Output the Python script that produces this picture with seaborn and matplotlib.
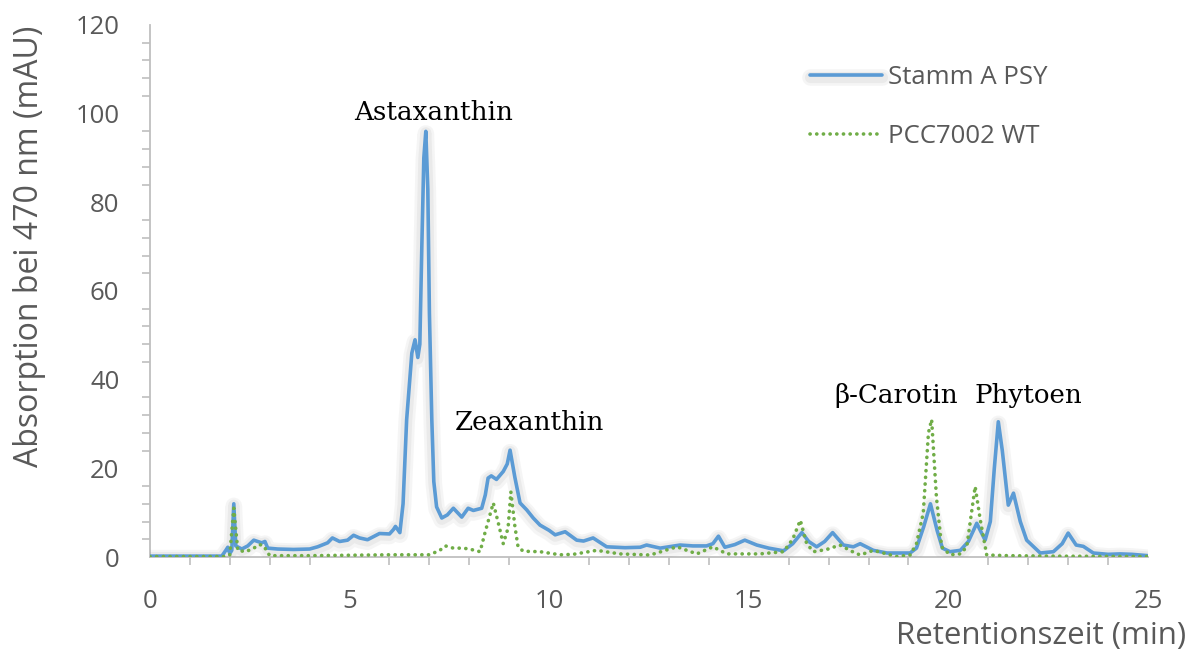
import numpy as np
import pandas as pd
import seaborn as sns
import matplotlib
matplotlib.use("Agg")
import matplotlib.pyplot as plt
import matplotlib.patheffects as pe
from matplotlib.ticker import MultipleLocator

# Retention time (min) and absorbance at 470 nm (mAU) for each strain
psy_time = [0.0, 1.8, 1.9, 1.95, 2.0, 2.05, 2.1, 2.15, 2.3, 2.45, 2.6, 2.7, 2.8, 2.88, 2.95,
            3.2, 3.6, 4.0, 4.2, 4.45, 4.57, 4.75, 4.95, 5.1, 5.25, 5.45, 5.6, 5.75, 6.0,
            6.1, 6.15, 6.26, 6.34, 6.43, 6.56, 6.64, 6.71, 6.76, 6.81, 6.86, 6.91, 6.96,
            7.0, 7.06, 7.11, 7.18, 7.31, 7.45, 7.6, 7.81, 7.97, 8.1, 8.31, 8.4, 8.47, 8.55,
            8.68, 8.85, 8.95, 9.02, 9.14, 9.27, 9.44, 9.6, 9.77, 10.0, 10.15, 10.4, 10.69,
            10.86, 11.1, 11.44, 11.9, 12.28, 12.44, 12.78, 13.28, 13.6, 13.94, 14.1, 14.24,
            14.4, 14.65, 14.9, 15.2, 15.5, 15.87, 16.1, 16.33, 16.5, 16.7, 16.9, 17.1,
            17.37, 17.62, 17.79, 18.12, 18.46, 19.04, 19.2, 19.38, 19.55, 19.72, 19.85,
            20.04, 20.3, 20.5, 20.71, 20.92, 21.05, 21.15, 21.25, 21.35, 21.5, 21.63, 21.8,
            21.96, 22.3, 22.63, 22.85, 23.0, 23.2, 23.38, 23.63, 24.0, 24.3, 24.6, 25.0]
psy_abs = [0.2, 0.2, 1.5, 2.2, 0.8, 1.5, 12.0, 2.5, 1.8, 2.5, 3.8, 3.5, 3.2, 3.5, 2.0,
           1.8, 1.7, 1.8, 2.3, 3.2, 4.3, 3.5, 3.8, 4.9, 4.3, 3.9, 4.6, 5.3, 5.2,
           6.2, 6.9, 5.5, 12.0, 31.0, 46.0, 49.0, 45.0, 48.0, 70.0, 90.0, 96.0, 83.0,
           55.0, 31.0, 17.0, 11.3, 8.8, 9.5, 11.0, 9.0, 11.0, 10.5, 11.0, 14.0, 17.8, 18.3,
           17.5, 19.3, 21.0, 24.1, 18.0, 12.2, 10.6, 8.8, 7.2, 6.0, 5.0, 5.7, 3.8,
           3.6, 4.3, 2.3, 2.1, 2.2, 2.7, 2.0, 2.7, 2.5, 2.5, 3.0, 4.7,
           2.2, 2.8, 3.8, 2.7, 2.0, 1.4, 3.0, 5.5, 3.5, 2.3, 3.5, 5.5,
           2.7, 2.3, 3.0, 1.5, 0.9, 0.9, 2.0, 6.8, 12.0, 5.9, 2.0,
           1.2, 1.5, 3.5, 7.6, 3.8, 8.0, 20.0, 30.5, 24.0, 11.7, 14.4, 8.0,
           3.8, 0.9, 1.2, 3.0, 5.4, 2.7, 2.4, 0.9, 0.6, 0.7, 0.6, 0.3]

wt_time = [0.0, 1.9, 2.0, 2.1, 2.2, 2.4, 2.6, 2.75, 2.85, 2.95, 3.0, 4.0, 5.0, 6.0, 7.0,
           7.26, 7.4, 7.6, 7.84, 8.0, 8.27, 8.39, 8.6, 8.73, 8.85, 8.97, 9.04, 9.14, 9.22,
           9.35, 9.77, 10.27, 10.6, 11.19, 11.77, 12.53, 13.2, 13.7, 14.1, 14.45, 15.28,
           15.87, 16.1, 16.29, 16.45, 16.62, 16.95, 17.28, 17.6, 17.79, 18.12, 18.7, 19.04,
           19.2, 19.37, 19.5, 19.58, 19.7, 19.83, 20.04, 20.3, 20.46, 20.67, 20.8, 20.96,
           21.5, 22.5, 25.0]
wt_abs = [0.1, 0.1, 0.5, 11.0, 1.5, 1.2, 2.0, 2.8, 2.5, 1.0, 0.3, 0.3, 0.4, 0.5, 0.5,
          1.5, 2.5, 2.0, 2.0, 1.8, 1.2, 5.4, 12.2, 7.5, 3.0, 6.5, 14.7, 7.0, 2.3,
          1.3, 1.2, 0.5, 0.6, 1.5, 0.7, 0.45, 2.3, 0.7, 2.3, 0.7, 0.7,
          1.2, 4.0, 8.3, 3.0, 1.2, 1.7, 2.7, 1.2, 0.45, 1.5, 0.1, 0.45,
          3.0, 9.9, 28.0, 31.0, 13.5, 2.3, 0.5, 0.7, 2.3, 15.9, 8.3, 0.45,
          0.3, 0.2, 0.1]

peak_names = ["Astaxanthin", "Zeaxanthin", "β-Carotin", "Phytoen"]
peak_label_x = [7.1, 9.5, 18.7, 22.0]
peak_label_y = [100.3, 30.3, 36.4, 36.4]

series_names = ["Stamm A PSY", "PCC7002 WT"]

blue = "#5B9BD5"
green = "#70AD47"
grey_text = "#595959"
axis_grey = "#BFBFBF"

sns.set_theme(style="white")
plt.rcParams["font.family"] = ["Open Sans", "DejaVu Sans"]

fig = plt.figure(figsize=(11.92, 6.57), dpi=100)
ax = fig.add_axes([0.1258, 0.1522, 0.8373, 0.8098])

df_psy = pd.DataFrame({"t": psy_time, "a": psy_abs})
df_wt = pd.DataFrame({"t": wt_time, "a": wt_abs})

glow = [pe.SimpleLineShadow(offset=(0, -1.5), shadow_color="0.55", alpha=0.08, linewidth=12),
        pe.SimpleLineShadow(offset=(0, -1.0), shadow_color="0.55", alpha=0.10, linewidth=8),
        pe.Normal()]

sns.lineplot(data=df_psy, x="t", y="a", ax=ax, color=blue, linewidth=2.6,
             estimator=None, sort=False, label=series_names[0], zorder=3)
sns.lineplot(data=df_wt, x="t", y="a", ax=ax, color=green, linewidth=2.6,
             linestyle=(0, (0.05, 1.8)), estimator=None, sort=False,
             label=series_names[1], zorder=4)
ax.lines[0].set_path_effects(glow)
ax.lines[1].set_dash_capstyle("round")

ax.set_xlim(0, 25)
ax.set_ylim(0, 120)
ax.xaxis.set_major_locator(MultipleLocator(5))
ax.xaxis.set_minor_locator(MultipleLocator(1))
ax.yaxis.set_major_locator(MultipleLocator(20))
ax.yaxis.set_minor_locator(MultipleLocator(4))

for side in ["top", "right"]:
    ax.spines[side].set_visible(False)
for side in ["left", "bottom"]:
    ax.spines[side].set_color(axis_grey)
    ax.spines[side].set_linewidth(1.3)

ax.tick_params(axis="both", which="both", direction="out", color=axis_grey,
               width=1.2, length=6, labelcolor=grey_text, labelsize=18.5)
ax.tick_params(axis="y", which="major", pad=16)
ax.tick_params(axis="x", which="major", pad=17)
ax.tick_params(axis="both", which="minor", length=6, bottom=True, left=True)

ax.set_xlabel("")
ax.set_ylabel("")
fig.text(30 / 1192, 1 - 246 / 657, "Absorption bei 470 nm (mAU)", rotation=90,
         ha="center", va="center", fontsize=23, color=grey_text)
fig.text(1186 / 1192, 1 - 636 / 657, "Retentionszeit (min)", ha="right", va="center",
         fontsize=22.5, color=grey_text)

for name, px, py in zip(peak_names, peak_label_x, peak_label_y):
    ax.text(px, py, name, ha="center", va="center", fontsize=18.8,
            family=["DejaVu Serif"], color="black")

leg = ax.legend(loc="upper left", bbox_to_anchor=(0.638, 0.968), frameon=False,
                fontsize=18.5, handlelength=2.8, labelspacing=1.3, handletextpad=0.25)
for txt in leg.get_texts():
    txt.set_color(grey_text)

fig.savefig("out.png", dpi=100)
